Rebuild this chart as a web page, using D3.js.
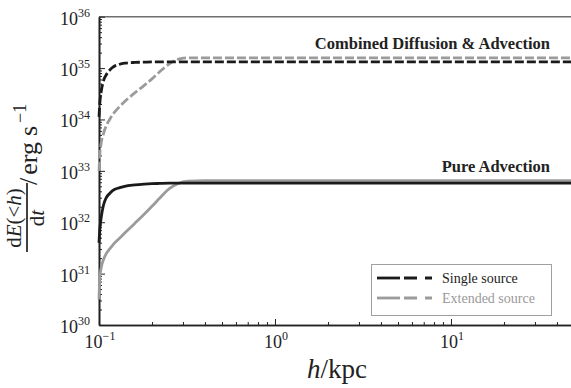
<!DOCTYPE html>
<html>
<head>
<meta charset="utf-8">
<script src="https://cdn.jsdelivr.net/npm/d3@7"></script>
<style>
  body { margin: 0; background: #fff; }
  svg { display: block; }
  text { font-family: "Liberation Serif", "DejaVu Serif", serif; }
</style>
</head>
<body>
<div id="chart"></div>
<script>
// heights in kpc (shared grid)
var heights = [0.1, 0.101, 0.103, 0.106, 0.11, 0.115, 0.12, 0.13, 0.14, 0.16, 0.18, 0.2,
               0.22, 0.25, 0.28, 0.32, 0.4, 0.6, 1, 2, 5, 10, 20, 50];

// log10 of dE(<h)/dt in erg/s
var combinedSingle   = [34.05, 34.3, 34.55, 34.75, 34.87, 34.96, 35.02, 35.07, 35.095, 35.11, 35.115, 35.12,
                        35.12, 35.12, 35.12, 35.12, 35.12, 35.12, 35.12, 35.12, 35.12, 35.12, 35.12, 35.12];
var combinedExtended = [33.0, 33.3, 33.55, 33.72, 33.88, 34.0, 34.1, 34.24, 34.35, 34.52, 34.66, 34.79,
                        34.92, 35.08, 35.17, 35.2, 35.2, 35.2, 35.2, 35.2, 35.2, 35.2, 35.2, 35.2];
var pureSingle       = [31.6, 31.85, 32.1, 32.33, 32.48, 32.56, 32.62, 32.67, 32.7, 32.725, 32.74, 32.75,
                        32.755, 32.76, 32.76, 32.76, 32.76, 32.76, 32.76, 32.76, 32.76, 32.76, 32.76, 32.76];
var pureExtended     = [30.5, 30.9, 31.12, 31.27, 31.39, 31.48, 31.56, 31.68, 31.79, 31.98, 32.15, 32.31,
                        32.46, 32.65, 32.75, 32.8, 32.81, 32.81, 32.81, 32.81, 32.81, 32.81, 32.81, 32.81];

var yExponents = [30, 31, 32, 33, 34, 35, 36];
var xExponents = [-1, 0, 1];
var annotations = ["Combined Diffusion & Advection", "Pure Advection"];
var legendLabels = ["Single source", "Extended source"];

var width = 571, height = 388;
var margin = {left: 99, top: 16.7, right: -3, bottom: 63};

var svg = d3.select("#chart").append("svg")
    .attr("width", width)
    .attr("height", height);

var x = d3.scaleLog()
    .domain([0.1, 50])
    .range([margin.left, width - margin.right]);

var y = d3.scaleLog()
    .domain([1e30, 1e36])
    .range([height - margin.bottom, margin.top]);

var black = "#1a1a1a", grey = "#9b9b9b";

// top frame line
svg.append("line")
    .attr("x1", margin.left).attr("x2", width)
    .attr("y1", y(1e36)).attr("y2", y(1e36))
    .attr("stroke", "#6e6e6e").attr("stroke-width", 1.6);

// minor tick values
var yMinor = [];
yExponents.slice(0, -1).forEach(function(e) {
  for (var k = 2; k <= 9; k++) yMinor.push(k * Math.pow(10, e));
});
var xMinor = [];
xExponents.forEach(function(e) {
  for (var k = 2; k <= 9; k++) {
    var v = k * Math.pow(10, e);
    if (v <= 50) xMinor.push(v);
  }
});

// axes: inward ticks
function styleAxis(g) {
  g.select(".domain").attr("stroke", "#222").attr("stroke-width", 1.6);
  g.selectAll(".tick line").attr("stroke", "#222").attr("stroke-width", 1);
}

svg.append("g")
    .attr("transform", "translate(" + margin.left + ",0)")
    .call(d3.axisLeft(y).tickValues(yMinor).tickSize(-3).tickSizeOuter(0).tickFormat(""))
    .call(styleAxis);
svg.append("g")
    .attr("transform", "translate(" + margin.left + ",0)")
    .call(d3.axisLeft(y).tickValues(yExponents.map(function(e) { return Math.pow(10, e); }))
          .tickSize(-6).tickSizeOuter(0).tickFormat(""))
    .call(styleAxis);

svg.append("g")
    .attr("transform", "translate(0," + y(1e30) + ")")
    .call(d3.axisBottom(x).tickValues(xMinor).tickSize(-3).tickSizeOuter(0).tickFormat(""))
    .call(styleAxis);
svg.append("g")
    .attr("transform", "translate(0," + y(1e30) + ")")
    .call(d3.axisBottom(x).tickValues(xExponents.map(function(e) { return Math.pow(10, e); }))
          .tickSize(-6).tickSizeOuter(0).tickFormat(""))
    .call(styleAxis);

function expText(e) { return String(e).replace("-", "\u2212"); }

// y tick labels
yExponents.forEach(function(e) {
  var t = svg.append("text")
      .attr("x", margin.left - 9)
      .attr("y", y(Math.pow(10, e)) + 8)
      .attr("text-anchor", "end")
      .attr("fill", "#222");
  t.append("tspan").attr("font-size", 18).text("10");
  t.append("tspan").attr("font-size", 12).attr("dy", -8).text(expText(e));
});

// x tick labels
xExponents.forEach(function(e) {
  var t = svg.append("text")
      .attr("x", x(Math.pow(10, e)) + 1)
      .attr("y", y(1e30) + 23)
      .attr("text-anchor", "middle")
      .attr("fill", "#222");
  t.append("tspan").attr("font-size", 18).text("10");
  t.append("tspan").attr("font-size", 12).attr("dy", -8).text(expText(e));
});

// curves
var line = function(vals) {
  return d3.line()
      .x(function(d, i) { return x(heights[i]); })
      .y(function(d) { return y(Math.pow(10, d)); })
      .curve(d3.curveMonotoneX)(vals);
};

var series = [
  {vals: pureExtended, color: grey, dash: null},
  {vals: pureSingle, color: black, dash: null},
  {vals: combinedExtended, color: grey, dash: "9,3"},
  {vals: combinedSingle, color: black, dash: "9,3"}
];

svg.selectAll("path.curve")
    .data(series)
    .enter().append("path")
    .attr("class", "curve")
    .attr("d", function(d) { return line(d.vals); })
    .attr("fill", "none")
    .attr("stroke", function(d) { return d.color; })
    .attr("stroke-width", 2.8)
    .attr("stroke-dasharray", function(d) { return d.dash; });

// annotations
svg.append("text")
    .attr("x", 550).attr("y", 49)
    .attr("text-anchor", "end")
    .attr("font-weight", "bold").attr("font-size", 16.5)
    .attr("fill", "#222")
    .text(annotations[0]);
svg.append("text")
    .attr("x", 550).attr("y", 172)
    .attr("text-anchor", "end")
    .attr("font-weight", "bold").attr("font-size", 16.5)
    .attr("fill", "#222")
    .text(annotations[1]);

// legend
var legend = svg.append("g");
legend.append("rect")
    .attr("x", 371.5).attr("y", 264.5)
    .attr("width", 180).attr("height", 51)
    .attr("fill", "#fff")
    .attr("stroke", "#a0a0a0").attr("stroke-width", 1);

legendLabels.forEach(function(lab, i) {
  var c = i === 0 ? black : grey;
  var ly = 278 + i * 20;
  legend.append("line")
      .attr("x1", 377).attr("x2", 400).attr("y1", ly).attr("y2", ly)
      .attr("stroke", c).attr("stroke-width", 2.8);
  legend.append("line")
      .attr("x1", 404).attr("x2", 432).attr("y1", ly).attr("y2", ly)
      .attr("stroke", c).attr("stroke-width", 2.8)
      .attr("stroke-dasharray", "13,8");
  legend.append("text")
      .attr("x", 442).attr("y", ly + 5)
      .attr("font-size", 14)
      .attr("fill", i === 0 ? "#222" : "#999")
      .text(lab);
});

// x label
var xl = svg.append("text")
    .attr("x", 337).attr("y", 378)
    .attr("text-anchor", "middle")
    .attr("font-size", 27)
    .attr("fill", "#222");
xl.append("tspan").attr("font-style", "italic").text("h");
xl.append("tspan").text("/kpc");

// y label (rotated)
var yl = svg.append("g")
    .attr("transform", "translate(27,218) rotate(-90)")
    .attr("fill", "#222");
var num = yl.append("text")
    .attr("x", 0).attr("y", -6)
    .attr("text-anchor", "middle")
    .attr("font-size", 21);
num.append("tspan").text("d");
num.append("tspan").attr("font-style", "italic").text("E");
num.append("tspan").text("(<");
num.append("tspan").attr("font-style", "italic").text("h");
num.append("tspan").text(")");
yl.append("line")
    .attr("x1", -34).attr("x2", 35).attr("y1", 0).attr("y2", 0)
    .attr("stroke", "#111").attr("stroke-width", 1.6);
var den = yl.append("text")
    .attr("x", 0).attr("y", 17)
    .attr("text-anchor", "middle")
    .attr("font-size", 21);
den.append("tspan").text("d");
den.append("tspan").attr("font-style", "italic").text("t");
var unit = yl.append("text")
    .attr("x", 33).attr("y", 10)
    .attr("font-size", 26);
unit.append("tspan").text("/");
unit.append("tspan").attr("dx", 3).text("erg");
unit.append("tspan").attr("dx", 6).text("s");
unit.append("tspan").attr("dx", 3).attr("dy", -11).attr("font-size", 18).text("\u22121");
</script>
</body>
</html>
